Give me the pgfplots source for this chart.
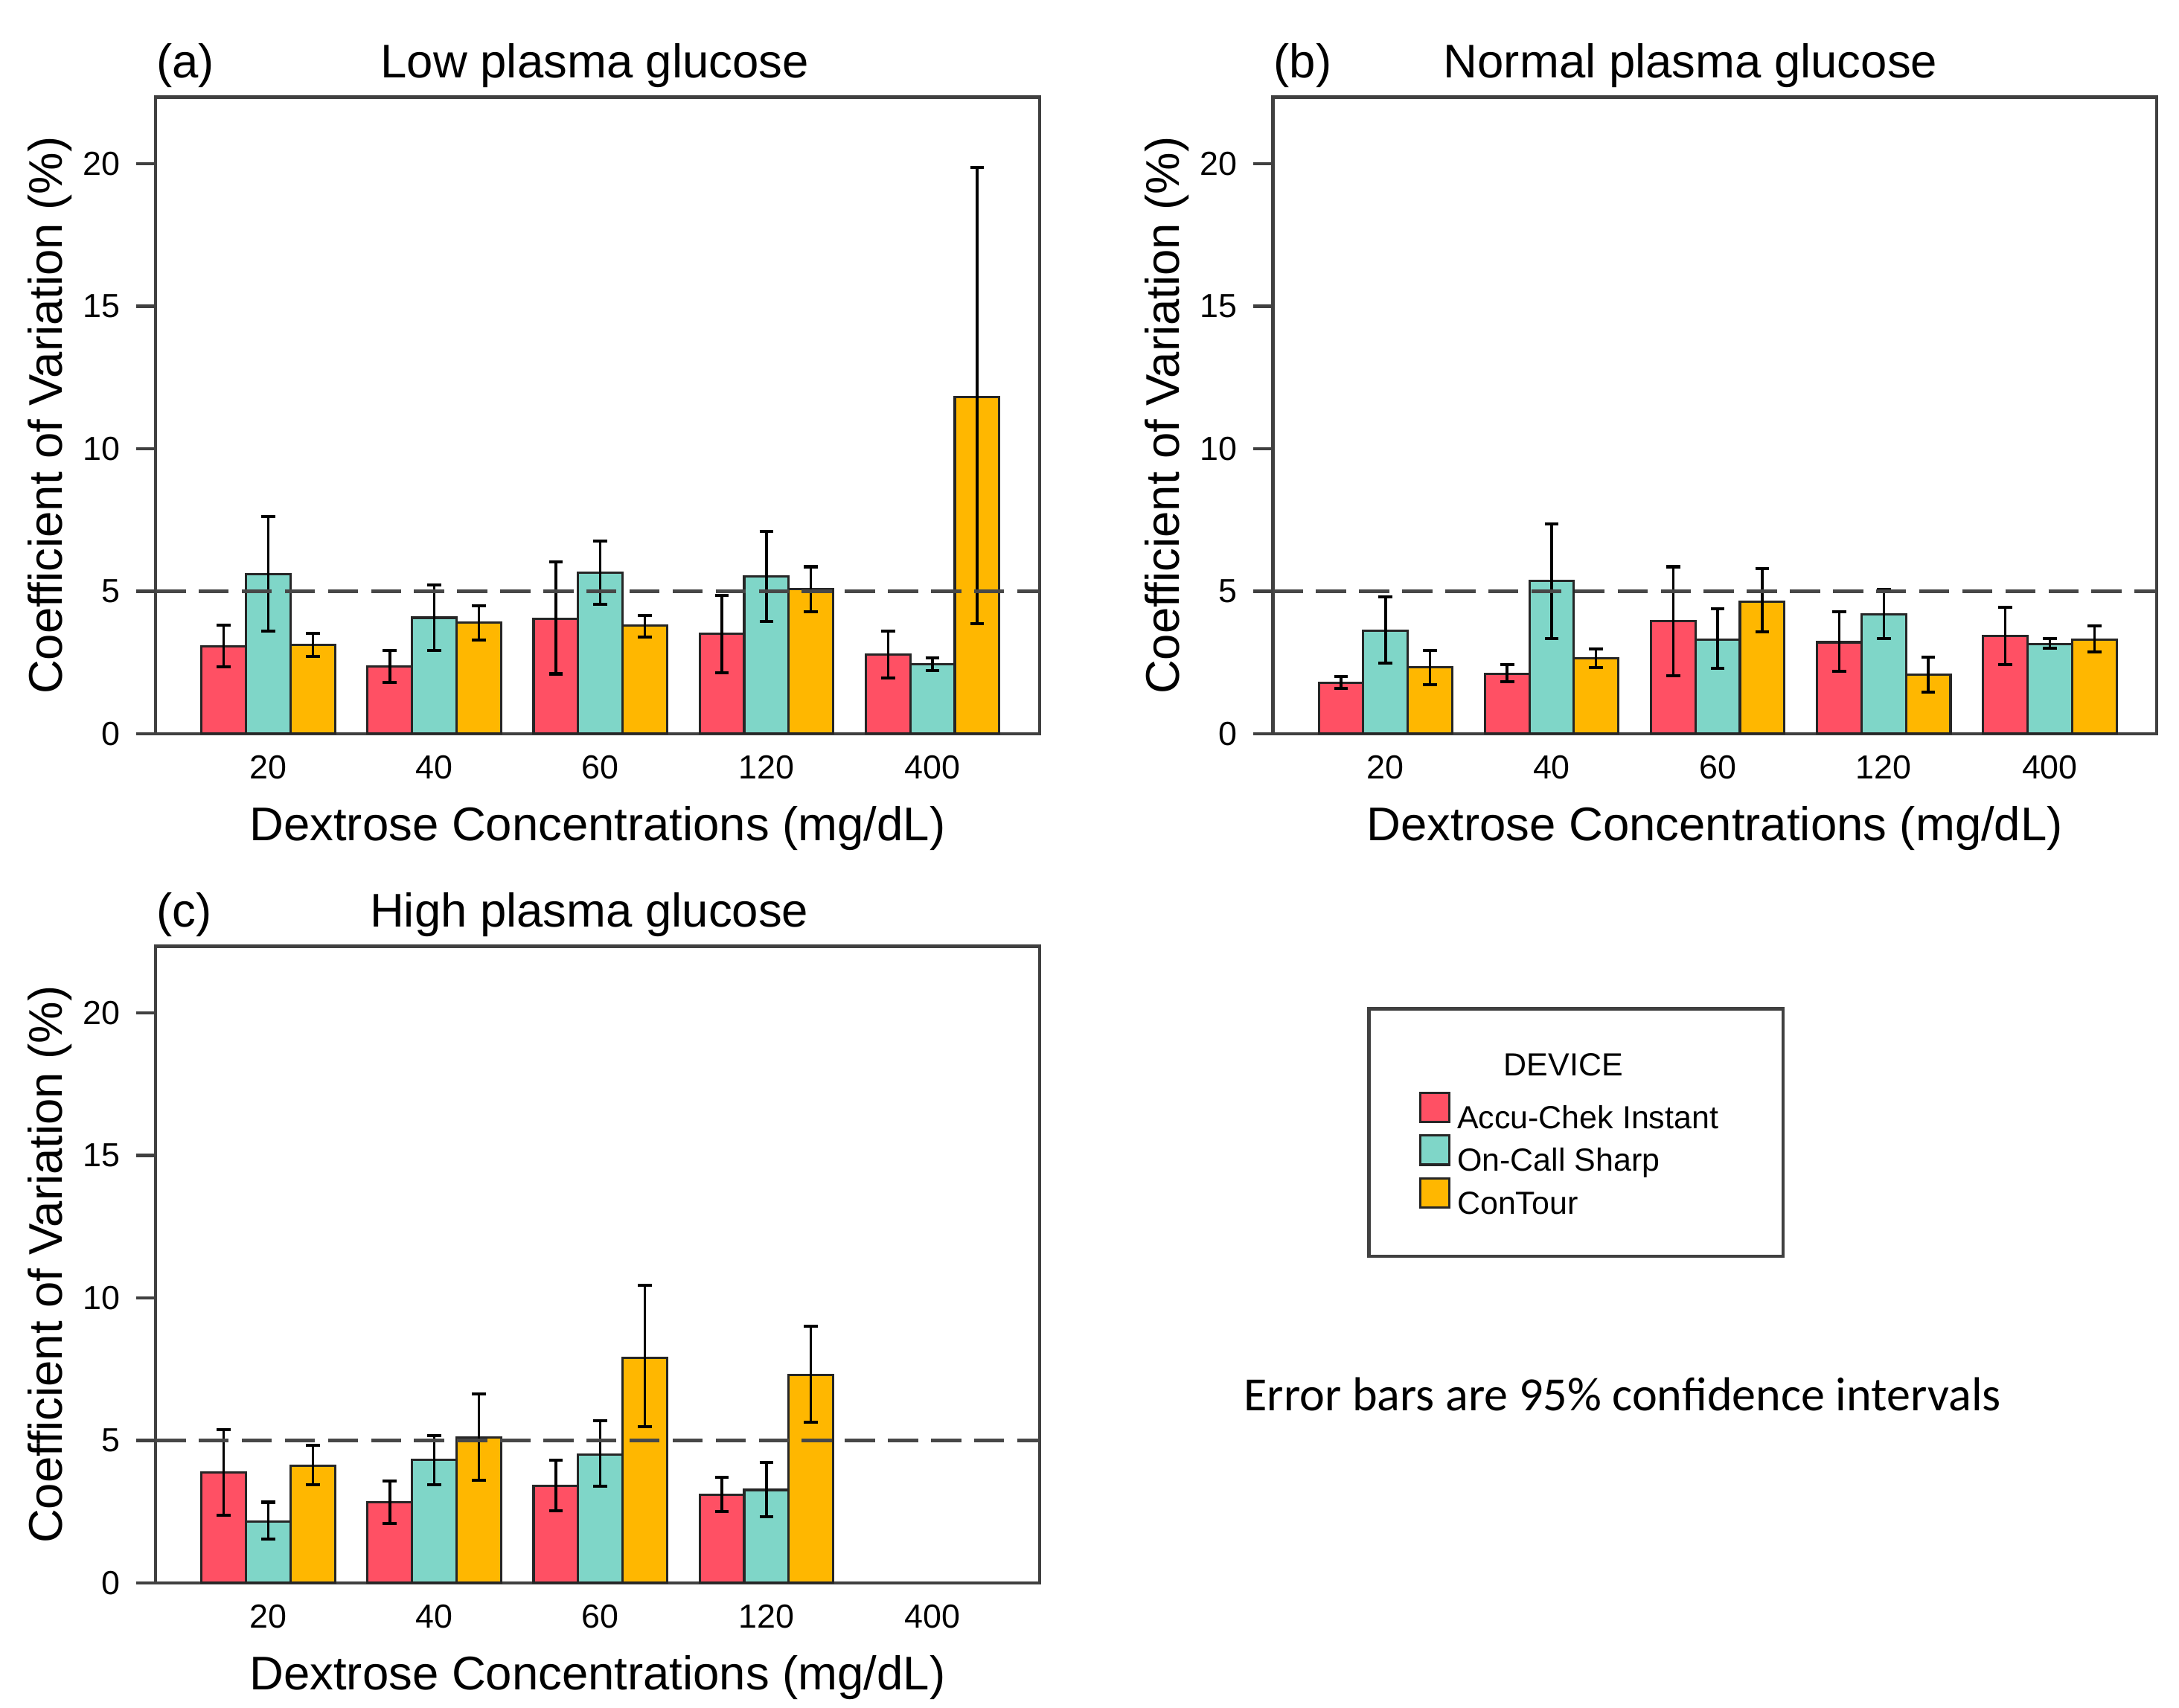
\documentclass[border=0pt]{standalone}
\usepackage{pgfplots}
\pgfplotsset{compat=1.18}
\usepackage{pgfplotstable}
\usepackage{fontspec}
\setmainfont{Liberation Sans}
\newfontfamily\carlito{Carlito}
\definecolor{cred}{HTML}{FF5064}
\definecolor{ccyan}{HTML}{7FD6C8}
\definecolor{corange}{HTML}{FFB700}

% g = concentration index; v = CV, p = +CI, m = -CI
\pgfplotstableread{
g rv rp rm cv cp cm ov op om
0 3.07 0.74 0.71 5.60 2.01 2.00 3.11 0.42 0.40
1 2.36 0.57 0.57 4.07 1.14 1.14 3.89 0.61 0.60
2 4.04 1.99 1.94 5.64 1.12 1.11 3.79 0.35 0.39
3 3.50 1.36 1.36 5.53 1.58 1.60 5.07 0.79 0.78
4 2.79 0.81 0.83 2.43 0.24 0.22 11.81 8.05 7.95
}\dataA
\pgfplotstableread{
g rv rp rm cv cp cm ov op om
0 1.79 0.21 0.19 3.61 1.20 1.14 2.33 0.60 0.62
1 2.11 0.32 0.28 5.36 2.00 2.03 2.64 0.33 0.31
2 3.96 1.90 1.92 3.31 1.08 1.02 4.64 1.15 1.07
3 3.21 1.08 1.02 4.19 0.88 0.86 2.07 0.62 0.61
4 3.43 1.00 1.00 3.14 0.19 0.14 3.31 0.48 0.45
}\dataB
\pgfplotstableread{
g rv rp rm cv cp cm ov op om
0 3.87 1.50 1.50 2.16 0.67 0.62 4.11 0.72 0.67
1 2.83 0.74 0.74 4.33 0.83 0.89 5.11 1.53 1.52
2 3.40 0.90 0.86 4.51 1.18 1.11 7.90 2.55 2.43
3 3.09 0.62 0.58 3.26 0.97 0.93 7.30 1.70 1.66
}\dataC

\pgfplotsset{
  panel/.style={
    scale only axis, width=190.8pt, height=137.4pt,
    xmin=-0.678, xmax=4.644, ymin=0, ymax=22.33,
    clip=false,
    xtick={0,1,2,3,4}, xticklabels={20,40,60,120,400},
    ytick={0,5,10,15,20},
    tick align=outside, major tick length=4.2pt,
    ytick pos=left, xtick pos=bottom,
    xtick style={draw=none},
    ytick style={black!75, line width=0.7pt},
    axis line style={black!75, line width=0.7pt},
    tick label style={font=\fontsize{7.2}{8.5}\selectfont},
    /pgf/number format/assume math mode=true,
    xticklabel style={yshift=3.1pt},
    label style={font=\fontsize{10.2}{12}\selectfont},
    xlabel={Dextrose Concentrations (mg/dL)},
    ylabel={Coefficient of Variation (\%)},
    xlabel style={at={(axis description cs:0.5,-0.1681)}, anchor=base},
    ylabel style={at={(axis description cs:-0.106,0.5)}, anchor=base},
  },
  barR/.style={ybar, bar width=0.268, bar shift=0, fill=cred, draw=black!85, line width=0.5pt},
  barC/.style={ybar, bar width=0.268, bar shift=0, fill=ccyan, draw=black!85, line width=0.5pt},
  barO/.style={ybar, bar width=0.268, bar shift=0, fill=corange, draw=black!85, line width=0.5pt},
  errb/.style={error bars/.cd, y dir=both, y explicit,
    error bar style={black, line width=0.55pt},
    error mark options={black, rotate=90, mark size=1.5pt, line width=0.65pt}},
  refline/.style={black!72, line width=0.8pt, dash pattern=on 6.5pt off 2.8pt, forget plot},
}
\newcommand{\ptitle}[3]{%
  \node[anchor=base, inner sep=0pt, font=\fontsize{10.2}{12}\selectfont] at (rel axis cs:#1,1.0306) {#2};
  \node[anchor=base west, inner sep=0pt, font=\fontsize{10.2}{12}\selectfont] at (rel axis cs:0,1.0306) {#3};
}

\begin{document}
\begin{tikzpicture}
\path[use as bounding box] (0pt,0pt) rectangle (470.4pt,368.7pt);

% (a)
\begin{axis}[panel, at={(33.6pt,210.3pt)}, anchor=south west]
\addplot[barR, errb] table[x expr=\thisrow{g}-0.268, y=rv, y error plus=rp, y error minus=rm]{\dataA};
\addplot[barC, errb] table[x=g, y=cv, y error plus=cp, y error minus=cm]{\dataA};
\addplot[barO, errb] table[x expr=\thisrow{g}+0.268, y=ov, y error plus=op, y error minus=om]{\dataA};
\addplot[refline] coordinates {(-0.678,5) (4.644,5)};
\ptitle{0.4969}{Low plasma glucose}{(a)}
\end{axis}

% (b)
\begin{axis}[panel, at={(274.8pt,210.3pt)}, anchor=south west]
\addplot[barR, errb] table[x expr=\thisrow{g}-0.268, y=rv, y error plus=rp, y error minus=rm]{\dataB};
\addplot[barC, errb] table[x=g, y=cv, y error plus=cp, y error minus=cm]{\dataB};
\addplot[barO, errb] table[x expr=\thisrow{g}+0.268, y=ov, y error plus=op, y error minus=om]{\dataB};
\addplot[refline] coordinates {(-0.678,5) (4.644,5)};
\ptitle{0.4724}{Normal plasma glucose}{(b)}
\end{axis}

% (c)
\begin{axis}[panel, at={(33.6pt,27pt)}, anchor=south west,
  legend cell align=left,
  legend image code/.code={\draw[#1] (0pt,-0.68pt) rectangle (6.3pt,5.62pt); \path (6.9pt,0pt);},
  legend style={at={(axis description cs:1.4292,0.772)}, anchor=north west,
    draw=none, fill=none, inner sep=0pt, outer sep=0pt, row sep=0pt, column sep=0pt,
    font=\fontsize{6.9}{8}\selectfont,
    nodes={inner xsep=0.9pt, inner ysep=0pt, text height=5.5pt, text depth=1.25pt}}]
\addplot[barR, errb] table[x expr=\thisrow{g}-0.268, y=rv, y error plus=rp, y error minus=rm]{\dataC};
\addlegendentry{Accu-Chek Instant}
\addplot[barC, errb] table[x=g, y=cv, y error plus=cp, y error minus=cm]{\dataC};
\addlegendentry{On-Call Sharp}
\addplot[barO, errb] table[x expr=\thisrow{g}+0.268, y=ov, y error plus=op, y error minus=om]{\dataC};
\addlegendentry{ConTour}
\addplot[refline] coordinates {(-0.678,5) (4.644,5)};
\ptitle{0.4906}{High plasma glucose}{(c)}
\end{axis}

% legend frame and notes
\draw[black!75, line width=0.7pt] (295.5pt,97.5pt) rectangle (384.9pt,150.9pt);
\node[anchor=base, inner sep=0pt, font=\fontsize{6.9}{8}\selectfont] at (337.5pt,136.4pt) {DEVICE};
\node[anchor=base, inner sep=0pt, font=\carlito\fontsize{10.3}{12}\selectfont] at (350.25pt,64.2pt) {Error bars are 95\% confidence intervals};
\end{tikzpicture}
\end{document}
